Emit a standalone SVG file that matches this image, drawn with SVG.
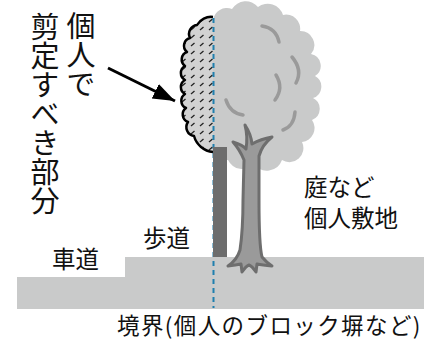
<svg xmlns="http://www.w3.org/2000/svg" width="424" height="345" viewBox="0 0 424 345">
<style>
  text { font-family: "Noto Sans CJK JP", "Noto Sans", sans-serif; fill: #111; }
  .lbl { font-size: 23.5px; }
  .vt { font-size: 29px; writing-mode: vertical-rl; }
  .ground { fill: #c9caca; }
  .tex { fill: none; stroke: #9a9a9a; stroke-width: 3.5; stroke-linecap: round; }
</style>
<defs>
  <pattern id="hatch" patternUnits="userSpaceOnUse" width="9" height="8">
    <rect width="9" height="8" fill="#d2d2d2"/>
    <line x1="2" y1="6" x2="5.5" y2="3" stroke="#222" stroke-width="1.3"/>
  </pattern>
  <marker id="ah" markerUnits="userSpaceOnUse" markerWidth="24" markerHeight="18" refX="22" refY="8" orient="auto">
    <path d="M0,0 L22,8 L0,16 Z" fill="#000"/>
  </marker>
</defs>

<g id="ground">
  <rect class="ground" x="17" y="277" width="110" height="32"/>
  <rect class="ground" x="125" y="257" width="299" height="52"/>
</g>

<g id="canopy">
  <path fill="#c9caca" d="M213,20 A14,14 0 0 1 232,9 A16,16 0 0 1 258,7 A16,16 0 0 1 283,15 A14,14 0 0 1 300,31 A14,14 0 0 1 311,54 A12,12 0 0 1 315,76 A12,12 0 0 1 313,98 A12,12 0 0 1 312,120 A14,14 0 0 1 302,142 A14,14 0 0 1 282,160 A16,16 0 0 1 254,164 A16,16 0 0 1 228,160 L213,160 Z"/>
  <path class="tex" d="M262,26 Q276,28 279,42"/>
  <path class="tex" d="M292,57 Q303,70 296,83"/>
  <path class="tex" d="M276,75 Q284,88 275,100"/>
  <path class="tex" d="M226,100 Q230,113 243,115"/>
  <path class="tex" d="M295,112 Q294,126 283,130"/>
</g>

<g id="trim-part">
  <path fill="url(#hatch)" stroke="#000" stroke-width="2.5" stroke-linejoin="round" d="M213,17 A16,16 0 0 0 197,25 A9,9 0 0 0 190,38 A8,8 0 0 0 187,52 A8,8 0 0 0 185,66 A8,8 0 0 0 185,80 A8,8 0 0 0 185,94 A8,8 0 0 0 186,108 A8,8 0 0 0 188,122 A9,9 0 0 0 194,136 A22,22 0 0 0 213,152"/>
</g>

<g id="trunk">
  <path fill="#9a9a9a" stroke="#6e6e6e" stroke-width="3" stroke-linejoin="round" d="M245,125 Q251,134 252,144 Q261,139 272,137 Q262,145 259,156 L259,200 Q259,245 262,257 Q266,262 272,266 Q262,265 257,264 L256,272 Q252,266 249,265 Q246,266 242,272 L241,264 Q236,265 228,266 Q237,260 240,250 Q243,230 243,200 L244,160 Q240,150 233,142 Q243,145 246,149 Q248,136 245,125 Z"/>
</g>

<g id="connectors">
  <line x1="213.5" y1="18" x2="213.5" y2="308" stroke="#1f7fae" stroke-width="2" stroke-dasharray="5,4"/>
  <line x1="108" y1="68" x2="175" y2="101" stroke="#000" stroke-width="3" marker-end="url(#ah)"/>
</g>

<g id="wall">
  <rect x="213" y="147" width="14" height="110" fill="#6d6d6d"/>
</g>

<g id="label-trim">
  <text class="vt" x="81" y="11">個人で</text>
  <text class="vt" x="45" y="12">剪定すべき部分</text>
</g>
<g id="label-yard">
  <text class="lbl" x="304" y="196">庭など</text>
  <text class="lbl" x="304" y="227">個人敷地</text>
</g>
<g id="label-road"><text class="lbl" x="52" y="268">車道</text></g>
<g id="label-sidewalk"><text class="lbl" x="143" y="247">歩道</text></g>
<g id="label-boundary"><text x="117" y="334" font-size="22.5" letter-spacing="1.4">境界(個人のブロック塀など)</text></g>
</svg>
